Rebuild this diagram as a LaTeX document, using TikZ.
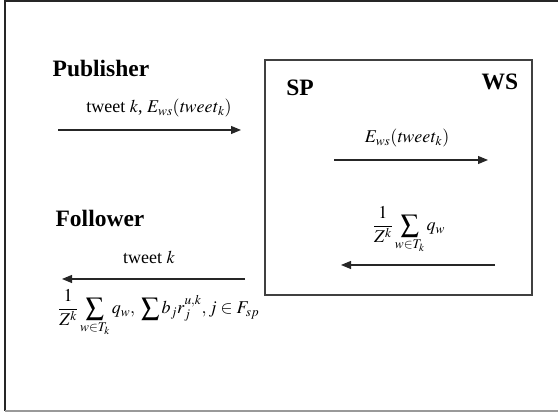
\documentclass[tikz,border=0pt]{standalone}
\usepackage{mathptmx}
\usepackage{fontspec}
\setmainfont{Liberation Serif}
\usepackage{tikz}
\usetikzlibrary{arrows.meta}
\usetikzlibrary{positioning}
\tikzset{
  party/.style={font=\fontsize{23.5}{26}\selectfont\bfseries},
  msg/.style={font=\fontsize{18}{20}\selectfont},
  flow/.style={->,line width=1.1pt,color=black!85}
}
\begin{document}
\begin{tikzpicture}[line cap=butt,>={Triangle[length=10pt,width=8pt]},x=1pt,y=1pt]
\useasboundingbox (0,0) rectangle (558,412);
% outer frame
\draw[line width=1.4pt,color=black!85] (558,411) -- (5,411) -- (5,1);
\draw[line width=1.4pt,color=black!40] (5,1) -- (558,1);
% service provider box
\draw[line width=1.1pt,color=black!75] (265,117) rectangle (532,352);
\node[party] (pub) at (101,344) {Publisher};
\node[party] (fol) at (100,194) {Follower};
\node[party] (sp) at (300,324) {SP};
\node[party] (ws) at (500,330) {WS};
% end points
\coordinate (p1) at (58,282);
\coordinate (p2) at (241,282);
\coordinate (s1) at (334,252);
\coordinate (s2) at (488,252);
\coordinate (w1) at (495,147);
\coordinate (w2) at (341,147);
\coordinate (f1) at (245,133);
\coordinate (f2) at (62,133);
\draw[flow] (p1) -- (p2);
\draw[flow] (s1) -- (s2);
\draw[flow] (w1) -- (w2);
\draw[flow] (f1) -- (f2);
\node[msg] (m1) at (159,304) {tweet $k$, $E_{ws}(\mathit{tweet}_k)$};
\node[msg] (m2) at (407,274) {$E_{ws}(\mathit{tweet}_k)$};
\node[msg] (m3) at (409,182) {$\displaystyle\frac{1}{Z^k}\sum_{w\in T_k} q_w$};
\node[msg] (m4) at (149,155) {tweet $k$};
\node[msg,anchor=west,inner sep=0pt] (m5) at (58,99) {$\displaystyle\frac{1}{Z^k}\sum_{w\in T_k} q_w,\; \sum\nolimits b_j r_j^{u,k}, j\in F_{sp}$};
\end{tikzpicture}
\end{document}
